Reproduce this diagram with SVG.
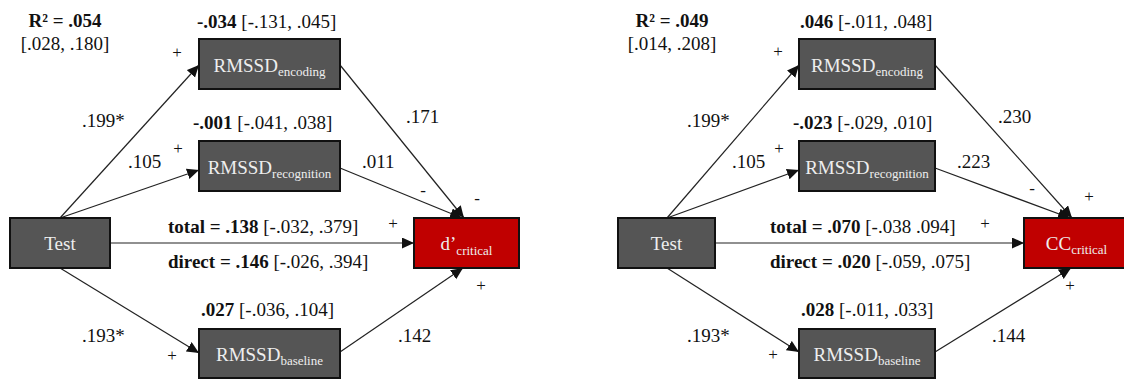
<svg xmlns="http://www.w3.org/2000/svg" width="1124" height="379" viewBox="0 0 1124 379">
<defs>
<marker id="ah" markerUnits="userSpaceOnUse" markerWidth="13" markerHeight="12" refX="12" refY="5.5" orient="auto">
<path d="M0,0 L12,5.5 L0,11 z" fill="#111111"/>
</marker>
</defs>
<rect width="1124" height="379" fill="#ffffff"/>

<g id="connectors" stroke="#222222" stroke-width="1.2" marker-end="url(#ah)">
<line x1="60" y1="218" x2="199" y2="65"/>
<line x1="60" y1="218" x2="199" y2="170"/>
<line x1="110" y1="243" x2="414" y2="243"/>
<line x1="60" y1="268" x2="199" y2="353"/>
<line x1="340" y1="65" x2="464" y2="218"/>
<line x1="340" y1="168" x2="462" y2="218"/>
<line x1="340" y1="352" x2="463" y2="268"/>
<line x1="667" y1="218" x2="799" y2="65"/>
<line x1="667" y1="218" x2="799" y2="170"/>
<line x1="715" y1="243" x2="1024" y2="243"/>
<line x1="667" y1="268" x2="799" y2="352"/>
<line x1="935" y1="65" x2="1072" y2="218"/>
<line x1="935" y1="168" x2="1070" y2="218"/>
<line x1="935" y1="352" x2="1071" y2="268"/>
</g>

<g stroke="#111111" stroke-width="2" fill="#555555">
<g id="test-left"><rect x="10" y="218" width="100" height="50"/><text x="60" y="250" font-family="Liberation Serif" font-size="19" fill="#eeeeee" stroke="none" text-anchor="middle">Test</text></g>
<g id="enc-left"><rect x="199" y="39" width="141" height="50"/><text x="269.5" y="72" font-family="Liberation Serif" font-size="19" fill="#eeeeee" stroke="none" text-anchor="middle">RMSSD<tspan font-size="13" dy="4">encoding</tspan></text></g>
<g id="rec-left"><rect x="199" y="141" width="141" height="50"/><text x="269.5" y="174" font-family="Liberation Serif" font-size="19" fill="#eeeeee" stroke="none" text-anchor="middle">RMSSD<tspan font-size="13" dy="4">recognition</tspan></text></g>
<g id="base-left"><rect x="199" y="329" width="141" height="49"/><text x="269.5" y="361" font-family="Liberation Serif" font-size="19" fill="#eeeeee" stroke="none" text-anchor="middle">RMSSD<tspan font-size="13" dy="4">baseline</tspan></text></g>
<g id="d-critical"><rect x="414" y="218" width="105" height="50" fill="#c00000"/><text x="466.5" y="250" font-family="Liberation Serif" font-size="19" fill="#eeeeee" stroke="none" text-anchor="middle">d’<tspan font-size="13" dy="5">critical</tspan></text></g>
<g id="test-right"><rect x="618" y="218" width="97" height="50"/><text x="666.5" y="250" font-family="Liberation Serif" font-size="19" fill="#eeeeee" stroke="none" text-anchor="middle">Test</text></g>
<g id="enc-right"><rect x="799" y="39" width="136" height="50"/><text x="867" y="72" font-family="Liberation Serif" font-size="19" fill="#eeeeee" stroke="none" text-anchor="middle">RMSSD<tspan font-size="13" dy="4">encoding</tspan></text></g>
<g id="rec-right"><rect x="799" y="141" width="136" height="50"/><text x="867" y="174" font-family="Liberation Serif" font-size="19" fill="#eeeeee" stroke="none" text-anchor="middle">RMSSD<tspan font-size="13" dy="4">recognition</tspan></text></g>
<g id="base-right"><rect x="799" y="329" width="136" height="49"/><text x="867" y="361" font-family="Liberation Serif" font-size="19" fill="#eeeeee" stroke="none" text-anchor="middle">RMSSD<tspan font-size="13" dy="4">baseline</tspan></text></g>
<g id="cc-critical"><rect x="1024" y="218" width="110" height="50" fill="#c00000"/><text x="1076.5" y="250" font-family="Liberation Serif" font-size="19" fill="#eeeeee" stroke="none" text-anchor="middle">CC<tspan font-size="13" dy="4">critical</tspan></text></g>
</g>

<g id="labels-left">
<text font-family="Liberation Serif" font-size="19" fill="#111111" font-weight="bold" text-anchor="middle" x="65" y="27">R² = .054</text>
<text font-family="Liberation Serif" font-size="19" fill="#111111" text-anchor="middle" x="65" y="50">[.028, .180]</text>
<text font-family="Liberation Serif" font-size="19" fill="#111111" x="197" y="28"><tspan font-weight="bold">-.034</tspan> [-.131, .045]</text>
<text font-family="Liberation Serif" font-size="19" fill="#111111" x="193" y="129"><tspan font-weight="bold">-.001</tspan> [-.041, .038]</text>
<text font-family="Liberation Serif" font-size="19" fill="#111111" x="201" y="316"><tspan font-weight="bold">.027</tspan> [-.036, .104]</text>
<text font-family="Liberation Serif" font-size="19" fill="#111111" x="168" y="233"><tspan font-weight="bold">total = .138</tspan> [-.032, .379]</text>
<text font-family="Liberation Serif" font-size="19" fill="#111111" x="168" y="268"><tspan font-weight="bold">direct = .146</tspan> [-.026, .394]</text>
<text font-family="Liberation Serif" font-size="19" fill="#111111" x="82" y="127">.199*</text>
<text font-family="Liberation Serif" font-size="19" fill="#111111" x="128" y="168">.105</text>
<text font-family="Liberation Serif" font-size="19" fill="#111111" x="362" y="168">.011</text>
<text font-family="Liberation Serif" font-size="19" fill="#111111" x="406" y="123">.171</text>
<text font-family="Liberation Serif" font-size="19" fill="#111111" x="82" y="342">.193*</text>
<text font-family="Liberation Serif" font-size="19" fill="#111111" x="398" y="342">.142</text>
<text font-family="Liberation Serif" font-size="17" fill="#111111" text-anchor="middle" x="177" y="58">+</text>
<text font-family="Liberation Serif" font-size="17" fill="#111111" text-anchor="middle" x="178" y="154">+</text>
<text font-family="Liberation Serif" font-size="17" fill="#111111" text-anchor="middle" x="393" y="229">+</text>
<text font-family="Liberation Serif" font-size="17" fill="#111111" text-anchor="middle" x="481" y="291">+</text>
<text font-family="Liberation Serif" font-size="17" fill="#111111" text-anchor="middle" x="172" y="361">+</text>
<text font-family="Liberation Serif" font-size="17" fill="#111111" text-anchor="middle" x="423" y="196">-</text>
<text font-family="Liberation Serif" font-size="17" fill="#111111" text-anchor="middle" x="477" y="204">-</text>
</g>
<g id="labels-right">
<text font-family="Liberation Serif" font-size="19" fill="#111111" font-weight="bold" text-anchor="middle" x="672" y="27">R² = .049</text>
<text font-family="Liberation Serif" font-size="19" fill="#111111" text-anchor="middle" x="672" y="50">[.014, .208]</text>
<text font-family="Liberation Serif" font-size="19" fill="#111111" x="800" y="28"><tspan font-weight="bold">.046</tspan> [-.011, .048]</text>
<text font-family="Liberation Serif" font-size="19" fill="#111111" x="793" y="129"><tspan font-weight="bold">-.023</tspan> [-.029, .010]</text>
<text font-family="Liberation Serif" font-size="19" fill="#111111" x="801" y="316"><tspan font-weight="bold">.028</tspan> [-.011, .033]</text>
<text font-family="Liberation Serif" font-size="19" fill="#111111" x="770" y="233"><tspan font-weight="bold">total = .070</tspan> [-.038 .094]</text>
<text font-family="Liberation Serif" font-size="19" fill="#111111" x="770" y="268"><tspan font-weight="bold">direct = .020</tspan> [-.059, .075]</text>
<text font-family="Liberation Serif" font-size="19" fill="#111111" x="687" y="127">.199*</text>
<text font-family="Liberation Serif" font-size="19" fill="#111111" x="732" y="168">.105</text>
<text font-family="Liberation Serif" font-size="19" fill="#111111" x="957" y="168">.223</text>
<text font-family="Liberation Serif" font-size="19" fill="#111111" x="998" y="123">.230</text>
<text font-family="Liberation Serif" font-size="19" fill="#111111" x="687" y="342">.193*</text>
<text font-family="Liberation Serif" font-size="19" fill="#111111" x="992" y="342">.144</text>
<text font-family="Liberation Serif" font-size="17" fill="#111111" text-anchor="middle" x="778" y="57">+</text>
<text font-family="Liberation Serif" font-size="17" fill="#111111" text-anchor="middle" x="779" y="154">+</text>
<text font-family="Liberation Serif" font-size="17" fill="#111111" text-anchor="middle" x="985" y="229">+</text>
<text font-family="Liberation Serif" font-size="17" fill="#111111" text-anchor="middle" x="1070" y="291">+</text>
<text font-family="Liberation Serif" font-size="17" fill="#111111" text-anchor="middle" x="773" y="360">+</text>
<text font-family="Liberation Serif" font-size="17" fill="#111111" text-anchor="middle" x="1089" y="202">+</text>
<text font-family="Liberation Serif" font-size="17" fill="#111111" text-anchor="middle" x="1032" y="194">-</text>
</g>
</svg>
